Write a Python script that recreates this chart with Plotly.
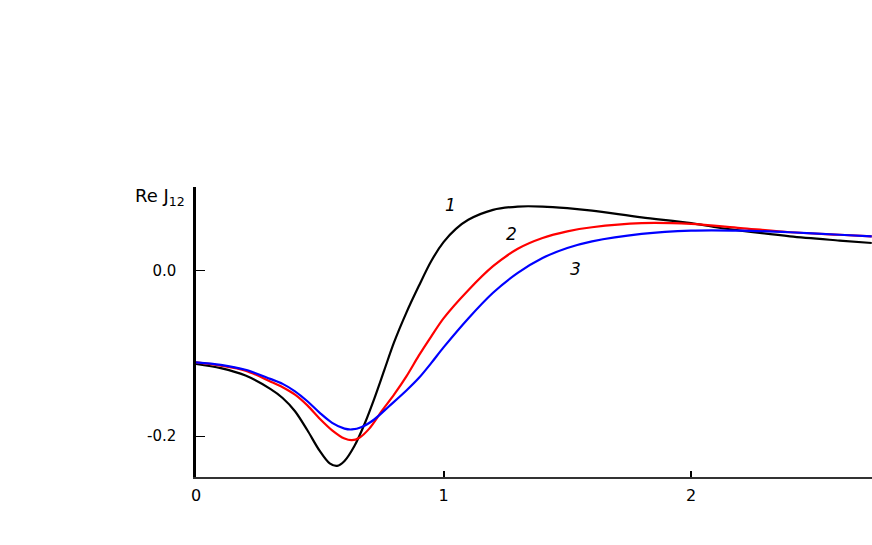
import plotly.graph_objects as go

# Curve 1 (black)
x1 = [0.0, 0.1, 0.2, 0.3, 0.35, 0.4, 0.45, 0.5, 0.54, 0.57, 0.6, 0.64, 0.68, 0.72, 0.76, 0.8, 0.85, 0.9, 0.95,
      1.0, 1.05, 1.1, 1.2, 1.3, 1.4, 1.5, 1.6, 1.8, 2.0, 2.1, 2.2, 2.4, 2.6, 2.73]
y1 = [-0.113, -0.118, -0.127, -0.143, -0.154, -0.170, -0.193, -0.218, -0.233, -0.236, -0.230, -0.212, -0.186,
      -0.155, -0.121, -0.087, -0.051, -0.019, 0.011, 0.034, 0.050, 0.061, 0.073, 0.077, 0.077, 0.075, 0.072,
      0.064, 0.057, 0.052, 0.048, 0.041, 0.036, 0.033]
# Curve 2 (red)
x2 = [0.0, 0.1, 0.2, 0.3, 0.35, 0.4, 0.45, 0.5, 0.55, 0.6, 0.63, 0.66, 0.7, 0.75, 0.8, 0.85, 0.9, 0.95, 1.0,
      1.1, 1.2, 1.3, 1.4, 1.5, 1.6, 1.8, 2.0, 2.2, 2.4, 2.6, 2.73]
y2 = [-0.111, -0.115, -0.121, -0.134, -0.141, -0.150, -0.163, -0.179, -0.193, -0.203, -0.205, -0.202, -0.191,
      -0.170, -0.150, -0.128, -0.103, -0.080, -0.058, -0.024, 0.005, 0.026, 0.039, 0.047, 0.052, 0.057, 0.056,
      0.051, 0.046, 0.043, 0.041]
# Curve 3 (blue)
x3 = [0.0, 0.1, 0.2, 0.3, 0.35, 0.4, 0.45, 0.5, 0.55, 0.6, 0.63, 0.67, 0.72, 0.78, 0.85, 0.9, 0.95, 1.0, 1.1,
      1.2, 1.3, 1.4, 1.5, 1.6, 1.8, 2.0, 2.2, 2.4, 2.6, 2.73]
y3 = [-0.111, -0.114, -0.120, -0.131, -0.137, -0.146, -0.158, -0.172, -0.184, -0.191, -0.192, -0.189, -0.180,
      -0.164, -0.145, -0.130, -0.112, -0.093, -0.058, -0.027, -0.003, 0.015, 0.027, 0.035, 0.044, 0.048, 0.048,
      0.046, 0.043, 0.041]

curve_labels = ["1", "2", "3"]
label_x = [1.03, 1.275, 1.535]
label_y = [0.079, 0.044, 0.002]

x_ticks = [0, 1, 2]
y_ticks = [0.0, -0.2]
y_tick_text = ["0.0", "-0.2"]

FONT = "DejaVu Sans, Liberation Sans, Arial"

fig = go.Figure()
for xs, ys, col in [(x1, y1, "black"), (x2, y2, "red"), (x3, y3, "blue")]:
    fig.add_trace(go.Scatter(x=xs, y=ys, mode="lines",
                             line=dict(color=col, width=2.2, shape="spline", smoothing=0.9),
                             showlegend=False, hoverinfo="skip"))

for t, lx, ly in zip(curve_labels, label_x, label_y):
    fig.add_annotation(x=lx, y=ly, text="<i>" + t + "</i>", showarrow=False,
                       font=dict(size=17, color="black", family=FONT))

fig.add_annotation(xref="paper", yref="paper", x=-0.014, y=0.966, xanchor="right", yanchor="middle",
                   text="Re J<sub>12</sub>", showarrow=False,
                   font=dict(size=18, color="black", family=FONT))

fig.update_layout(
    width=872, height=545,
    margin=dict(l=196, r=0, t=187, b=68),
    plot_bgcolor="white", paper_bgcolor="white",
    font=dict(family=FONT, size=14, color="black"),
    xaxis=dict(range=[0, 2.731], tickvals=x_ticks, ticktext=[str(v) for v in x_ticks],
               showgrid=False, zeroline=False, showline=True, linecolor="#333", linewidth=1.5,
               ticks="inside", ticklen=6, tickwidth=1.5, tickcolor="black", ticklabelstandoff=3,
               tickfont=dict(size=16, family=FONT, color="black")),
    yaxis=dict(range=[-0.2494, 0.1006], tickvals=y_ticks, ticktext=y_tick_text,
               showgrid=False, zeroline=False, showline=True, linecolor="black", linewidth=2.5,
               ticks="inside", ticklen=9, tickwidth=1.2, tickcolor="black", ticklabelstandoff=14,
               tickfont=dict(size=15, family=FONT, color="black")),
)

fig.write_html("out.html", config={"displayModeBar": False},
               post_script="document.body.style.margin='0px';document.body.style.overflow='hidden';")
